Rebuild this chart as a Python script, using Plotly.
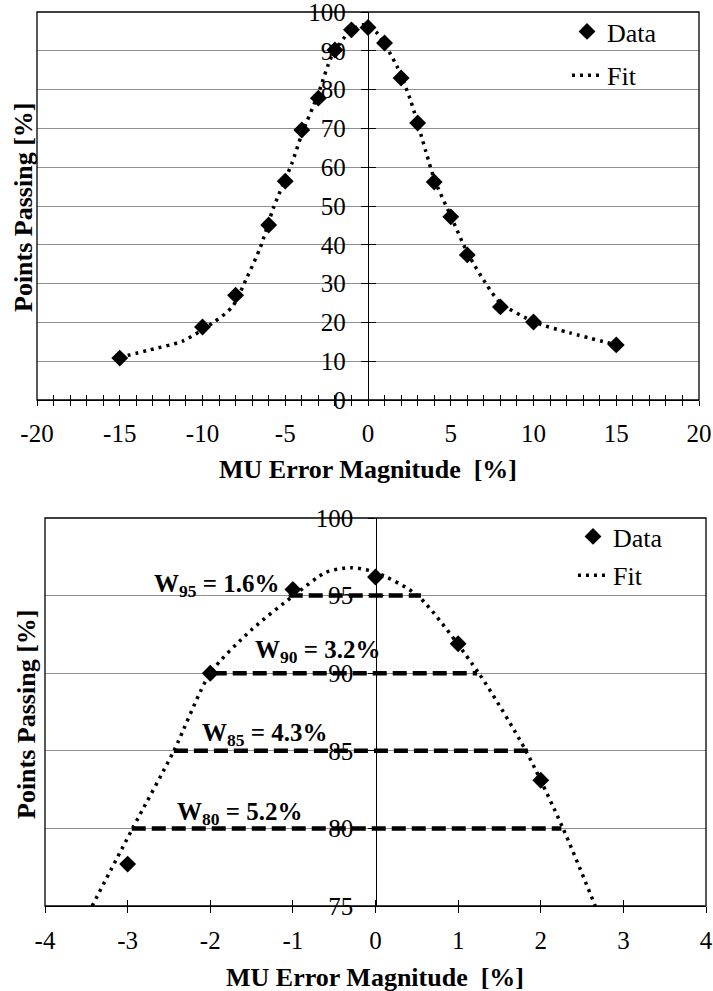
import plotly.graph_objects as go

# ---------------- data ----------------
# Top panel
top_data_x = [-15, -10, -8, -6, -5, -4, -3, -2, -1, 0, 1, 2, 3, 4, 5, 6, 8, 10, 15]
top_data_y = [10.8, 18.8, 27.0, 45.1, 56.4, 69.6, 77.8, 90.2, 95.4, 96.0,
              92.0, 83.0, 71.4, 56.2, 47.2, 37.4, 24.0, 20.1, 14.2]
top_fit_x = [-15, -13.2, -11.2, -9.4, -8.2, -7.3, -6.5, -5.7, -4.6, -4, -3, -2.2,
             -1.1, -0.3, 0.5, 1.75, 2.55, 3.5, 4, 5.1, 6, 7.2, 8, 10.1, 12.2, 15]
top_fit_y = [11, 12.9, 15.2, 19.8, 24, 31.7, 39.4, 49.7, 61, 68.5, 79, 88.5,
             95, 96.7, 94.8, 86, 77.5, 64, 57, 46.5, 38, 29.5, 25, 20, 17.3, 14.2]
top_x_major = list(range(-20, 21, 5))
top_x_minor = list(range(-20, 21))
top_y_ticks = list(range(0, 101, 10))

# Bottom panel
bot_data_x = [-3, -2, -1, 0, 1, 2]
bot_data_y = [77.7, 90.0, 95.4, 96.2, 91.9, 83.1]
bot_fit_x = [-3.43, -2.94, -2.44, -2.0, -1.5, -0.99, -0.6, -0.3, 0.0, 0.51,
             1.25, 1.82, 2.27, 2.66]
bot_fit_y = [75, 80, 85, 90, 92.8, 95, 96.5, 96.8, 96.5, 95, 90, 85, 80, 75]
w_levels = [95, 90, 85, 80]
w_left = [-1.05, -1.97, -2.44, -2.95]
w_right = [0.55, 1.23, 1.86, 2.25]
w_labels = ["W<sub>95</sub> = 1.6%", "W<sub>90</sub> = 3.2%",
            "W<sub>85</sub> = 4.3%", "W<sub>80</sub> = 5.2%"]
bot_x_ticks = list(range(-4, 5))
bot_y_ticks = list(range(75, 101, 5))

# ---------------- styling ----------------
FONT = "Liberation Serif"
TICK_FONT = dict(family=FONT, size=25, color="black")
TITLE_FONT = dict(family=FONT, size=26, color="black")
DOT = "3px,5px"
GRID = "#8f8f8f"

fig = go.Figure()

fig.add_trace(go.Scatter(x=top_data_x, y=top_data_y, mode="markers", name="Data",
                         marker=dict(symbol="diamond", size=13, color="black"),
                         xaxis="x", yaxis="y", legend="legend", legendgroup="a"))
fig.add_trace(go.Scatter(x=top_fit_x, y=top_fit_y, mode="lines", name="Fit",
                         line=dict(color="black", width=3.5, dash=DOT,
                                   shape="spline", smoothing=0.7),
                         xaxis="x", yaxis="y", legend="legend", legendgroup="b"))

for lvl, xl, xr in zip(w_levels, w_left, w_right):
    fig.add_trace(go.Scatter(x=[xl, xr], y=[lvl, lvl], mode="lines", showlegend=False,
                             line=dict(color="black", width=4.5, dash="14px,6px"),
                             xaxis="x2", yaxis="y2", hoverinfo="skip"))
fig.add_trace(go.Scatter(x=bot_data_x, y=bot_data_y, mode="markers", name="Data",
                         marker=dict(symbol="diamond", size=13, color="black"),
                         xaxis="x2", yaxis="y2", legend="legend2", legendgroup="c"))
fig.add_trace(go.Scatter(x=bot_fit_x, y=bot_fit_y, mode="lines", name="Fit",
                         line=dict(color="black", width=3.5, dash=DOT,
                                   shape="spline", smoothing=0.7),
                         xaxis="x2", yaxis="y2", legend="legend2", legendgroup="d"))

# empty traces that bind the overlay (inside-tick) axes
for xa, ya in [("x3", "y"), ("x", "y3"), ("x4", "y2"), ("x2", "y4")]:
    fig.add_trace(go.Scatter(x=[None], y=[None], xaxis=xa, yaxis=ya,
                             showlegend=False, hoverinfo="skip"))

W, H = 713, 991
ML, MR, MT, MB = 37, 7, 12, 85
PW, PH = W - ML - MR, H - MT - MB


def px_x(p):
    return (p - ML) / PW


def px_y(p):
    return (H - MB - p) / PH


top_dom_x = [0, px_x(699)]
top_dom_y = [px_y(400), 1]
bot_dom_x = [px_x(45), 1]
bot_dom_y = [0, px_y(518)]
top_zero = px_x(368)
bot_zero = px_x(375.5)

common_x = dict(showgrid=False, zeroline=False, showline=True, linecolor="black",
                linewidth=1.3, tickcolor="black", tickwidth=1.3, tickfont=TICK_FONT,
                automargin=False, ticklabeloverflow="allow")
common_y = dict(showgrid=True, gridcolor=GRID, gridwidth=1, zeroline=False,
                showline=True, linecolor="black", linewidth=1.3, tickcolor="black",
                tickwidth=1.3, tickfont=TICK_FONT, automargin=False,
                ticklabeloverflow="allow")
overlay = dict(showticklabels=False, tickcolor="black", tickwidth=1.3,
               showgrid=False, zeroline=False, showline=False, automargin=False)

fig.update_layout(
    width=W, height=H, margin=dict(l=ML, r=MR, t=MT, b=MB, autoexpand=False),
    paper_bgcolor="white", plot_bgcolor="white",
    font=dict(family=FONT, color="black"),
    xaxis=dict(common_x, domain=top_dom_x, range=[-20, 20], anchor="y",
               tickmode="array", tickvals=top_x_major,
               ticktext=[str(v) for v in top_x_major],
               ticks="outside", ticklen=5, ticklabelstandoff=6,
               minor=dict(tickmode="array", tickvals=top_x_minor, ticks="outside",
                          ticklen=5, tickcolor="black", tickwidth=1.3,
                          showgrid=False)),
    xaxis3=dict(overlay, domain=top_dom_x, range=[-20, 20], anchor="y",
                overlaying="x", tickmode="array", tickvals=top_x_minor,
                ticks="inside", ticklen=5),
    yaxis=dict(common_y, domain=top_dom_y, range=[0, 100], anchor="free",
               position=top_zero, tickmode="array", tickvals=top_y_ticks,
               ticks="outside", ticklen=7, ticklabelstandoff=10),
    yaxis3=dict(overlay, domain=top_dom_y, range=[0, 100], anchor="free",
                overlaying="y", position=top_zero, tickmode="array",
                tickvals=top_y_ticks, ticks="inside", ticklen=7),
    xaxis2=dict(common_x, domain=bot_dom_x, range=[-4, 4], anchor="y2",
                tickmode="array", tickvals=bot_x_ticks,
                ticktext=[str(v) for v in bot_x_ticks],
                ticks="outside", ticklen=6, ticklabelstandoff=6),
    xaxis4=dict(overlay, domain=bot_dom_x, range=[-4, 4], anchor="y2",
                overlaying="x2", tickmode="array", tickvals=bot_x_ticks,
                ticks="inside", ticklen=6),
    yaxis2=dict(common_y, domain=bot_dom_y, range=[75, 100], anchor="free",
                position=bot_zero, tickmode="array", tickvals=bot_y_ticks,
                ticks="outside", ticklen=7, ticklabelstandoff=10),
    yaxis4=dict(overlay, domain=bot_dom_y, range=[75, 100], anchor="free",
                overlaying="y2", position=bot_zero, tickmode="array",
                tickvals=bot_y_ticks, ticks="inside", ticklen=7),
    legend=dict(x=px_x(567), y=px_y(8), xanchor="left", yanchor="top",
                bgcolor="rgba(0,0,0,0)", font=dict(family=FONT, size=26),
                tracegroupgap=7, traceorder="grouped"),
    legend2=dict(x=px_x(573), y=px_y(513), xanchor="left", yanchor="top",
                 bgcolor="rgba(0,0,0,0)", font=dict(family=FONT, size=26),
                 tracegroupgap=2, traceorder="grouped"),
    showlegend=True,
)

for xr, yr in [("x", "y"), ("x2", "y2")]:
    fig.add_shape(type="rect", xref=f"{xr} domain", yref=f"{yr} domain",
                  x0=0, x1=1, y0=0, y1=1, line=dict(color="black", width=1.3),
                  layer="above")

for txt, cx, cy, ang in [("<b>MU Error Magnitude  [%]</b>", 368, 470, 0),
                         ("<b>MU Error Magnitude  [%]</b>", 375, 977, 0),
                         ("<b>Points Passing [%]</b>", 24, 208, -90),
                         ("<b>Points Passing [%]</b>", 26, 715, -90)]:
    fig.add_annotation(text=txt, xref="paper", yref="paper", x=px_x(cx), y=px_y(cy),
                       xanchor="center", yanchor="middle", textangle=ang,
                       showarrow=False, font=TITLE_FONT)

w_pos = [(-2.71, 95.68), (-1.48, 91.37), (-2.12, 86.08), (-2.43, 80.99)]
for (ax, ay), txt in zip(w_pos, w_labels):
    fig.add_annotation(text=f"<b>{txt}</b>", xref="x2", yref="y2", x=ax, y=ay,
                       xanchor="left", yanchor="middle", showarrow=False,
                       font=dict(family=FONT, size=25, color="black"))

fig.write_html("out.html", config={"displayModeBar": False},
               post_script="document.body.style.margin='0';"
                           "document.body.style.overflow='hidden';")
